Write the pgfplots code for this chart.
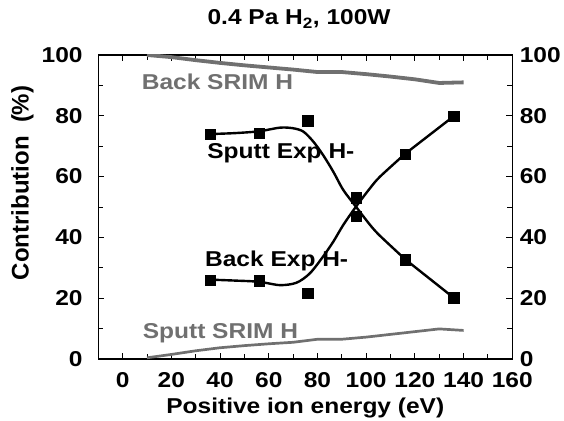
\documentclass[border=0pt]{standalone}
\usepackage{fontspec}
\setmainfont{Liberation Sans}[FakeStretch=1.14]
\newfontfamily\ylabfont{Liberation Sans}
\usepackage{pgfplots}
\pgfplotsset{compat=1.18}
\definecolor{srimgray}{RGB}{112,112,112}
\newcommand{\lblfont}{\fontsize{21.5bp}{25bp}\selectfont\bfseries}

\begin{document}
\begin{tikzpicture}
\path[use as bounding box] (-98.3bp,-62bp) rectangle (465.7bp,359bp);
\begin{axis}[
  at={(0,0)}, anchor=south west,
  scale only axis, width=414bp, height=304bp,
  xmin=-10, xmax=160, ymin=0, ymax=100,
  xtick={0,20,...,160}, ytick={0,20,...,100},
  minor x tick num=1, minor y tick num=1,
  tick align=inside,
  major tick length=6bp, minor tick length=5bp,
  tick style={black, line width=0.9bp},
  axis line style={black, line width=1.1bp},
  ticklabel style={font=\lblfont},
  /pgf/number format/assume math mode=true,
  xticklabel style={inner sep=0pt, anchor=north, yshift=-13bp},
  yticklabel style={inner sep=0pt, anchor=east, xshift=-15.5bp},
  xlabel={Positive ion energy (eV)},
  xlabel style={font=\lblfont, at={(axis description cs:0.5,0)}, anchor=base, yshift=-54bp, inner sep=0pt},
  ylabel={Contribution\ \ (\%)},
  ylabel style={font=\ylabfont\fontsize{24bp}{28bp}\selectfont\bfseries, at={(axis description cs:-0.183,0.579)}, anchor=center, inner sep=0pt},
  title={0.4 Pa H\textsubscript{2}, 100W},
  title style={font=\lblfont, at={(axis description cs:0.485,1)}, anchor=base, yshift=24.3bp, inner sep=0pt},
]
% SRIM simulation: backscattered H
\addplot[srimgray, line width=3.8bp] coordinates {
  (10,100) (20,99.3) (30,98.3) (40,97.4) (50,96.6) (60,95.9) (70,95.2)
  (80,94.4) (90,94.4) (100,93.7) (110,92.9) (120,92.0) (130,90.8) (140,91.0)};
% SRIM simulation: sputtered H
\addplot[srimgray, line width=2.7bp] coordinates {
  (10,0.4) (20,1.5) (30,2.7) (40,3.7) (50,4.4) (60,5.0) (70,5.5)
  (80,6.5) (90,6.5) (100,7.2) (110,8.1) (120,9.0) (130,9.9) (140,9.4)};
% guide curves through the measured H- contributions
\addplot[black, line width=2.4bp, smooth] coordinates {
  (36,74.0) (46,74.3) (56,74.9) (64.6,76.1) (70,75.9) (74.2,74.8) (78.3,71.5)
  (82.3,67.1) (86.5,61.6) (90.6,55.6) (95.8,50.1) (101.6,44.1) (105.7,40.5) (116,32.8)};
\addplot[black, line width=2.4bp] coordinates {(116,32.8) (136,20.1)};
\addplot[black, line width=2.4bp, smooth] coordinates {
  (36,26.1) (46,25.8) (56,25.4) (64.6,24.3) (71.4,25.1) (76.9,28.2) (82.3,33.7)
  (86.5,38.6) (90.6,44.1) (95.8,50.1) (101.6,56.2) (105.7,60.0) (116,67.5)};
\addplot[black, line width=2.4bp] coordinates {(116,67.5) (136,79.9)};
% measured: sputtered H-
\addplot[only marks, mark=square*, mark size=5.2bp, black] coordinates {
  (36,74.0) (56,74.3) (76,78.4) (96,53.0) (116,32.7) (136,20.1)};
% measured: backscattered H-
\addplot[only marks, mark=square*, mark size=5.2bp, black] coordinates {
  (36,26.0) (56,25.7) (76,21.6) (96,47.0) (116,67.4) (136,79.9)};
\node[anchor=base west, inner sep=0pt, text=srimgray, font=\lblfont] at (axis cs:7.8,88.7) {Back SRIM H};
\node[anchor=base west, inner sep=0pt, text=srimgray, font=\lblfont] at (axis cs:8.2,6.8) {Sputt SRIM H};
\node[anchor=base west, inner sep=0pt, font=\lblfont] at (axis cs:34.7,66.0) {Sputt Exp H-};
\node[anchor=base west, inner sep=0pt, font=\lblfont] at (axis cs:33.8,30.3) {Back Exp H-};
\end{axis}
% right-hand value scale
\begin{axis}[
  at={(0,0)}, anchor=south west,
  scale only axis, width=414bp, height=304bp,
  xmin=-10, xmax=160, ymin=0, ymax=100,
  hide x axis, axis y line*=right,
  ytick={0,20,...,100}, major tick length=0pt,
  axis line style={black, line width=1.1bp},
  /pgf/number format/assume math mode=true,
  yticklabel style={font=\lblfont, inner sep=0pt, anchor=west, xshift=7.3bp},
]
\addplot[draw=none] coordinates {(0,0) (10,10)};
\end{axis}
\end{tikzpicture}
\end{document}
